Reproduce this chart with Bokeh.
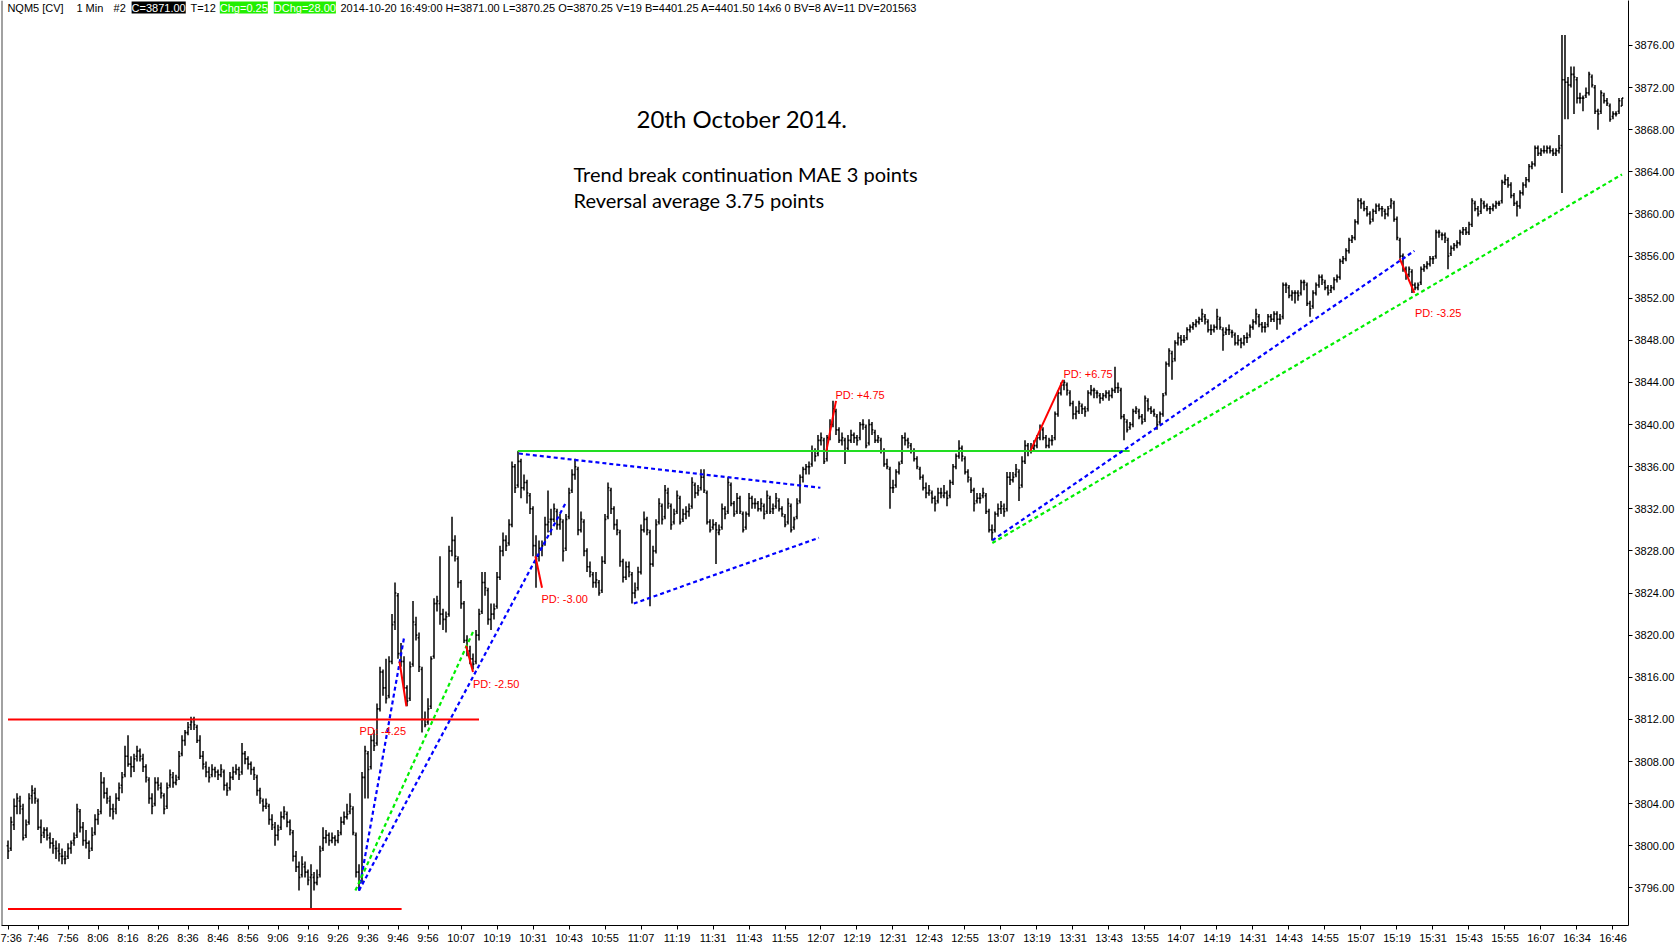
import numpy as np
from bokeh.plotting import figure
from bokeh.models import Range1d, FixedTicker, Label, Span, ColumnDataSource, PrintfTickFormatter
from bokeh.embed import file_html
from bokeh.resources import INLINE

# ---------------- data (1-minute OHLC bars, NQM5 2014-10-20 07:36 .. 16:49) ----------------
bar_open = [
3800.0, 3799.75, 3802.0, 3803.75, 3804.25, 3803.5, 3801.0, 3802.25, 3804.75, 3805.0,
3804.25, 3801.75, 3801.25, 3801.5, 3800.75, 3800.25, 3799.75, 3799.5, 3799.0, 3798.75,
3799.0, 3799.75, 3800.5, 3801.0, 3803.25, 3801.75, 3800.5, 3800.25, 3799.75, 3801.25,
3802.5, 3803.25, 3806.0, 3805.0, 3804.25, 3803.5, 3803.5, 3804.5, 3805.75, 3806.75,
3808.5, 3807.75, 3807.5, 3808.5, 3809.0, 3808.25, 3807.5, 3806.25, 3804.5, 3804.0,
3806.0, 3805.5, 3804.75, 3803.75, 3805.75, 3806.5, 3806.0, 3806.5, 3808.75, 3810.0,
3810.75, 3811.5, 3812.0, 3811.25, 3810.0, 3808.5, 3807.5, 3807.0, 3806.75, 3807.25,
3807.0, 3806.75, 3807.0, 3805.75, 3805.5, 3806.5, 3807.0, 3807.25, 3807.0, 3808.75,
3808.25, 3807.75, 3807.25, 3806.5, 3805.25, 3804.25, 3803.75, 3803.75, 3802.5, 3801.75,
3801.0, 3801.75, 3802.75, 3803.0, 3802.25, 3801.25, 3799.0, 3798.0, 3797.25, 3798.0,
3797.5, 3797.0, 3797.0, 3796.5, 3797.25, 3799.75, 3800.75, 3801.0, 3800.5, 3800.75,
3800.5, 3801.25, 3802.25, 3802.75, 3803.25, 3803.5, 3801.0, 3797.5, 3797.0, 3806.5,
3808.75, 3807.5, 3810.0, 3809.75, 3813.0, 3816.5, 3815.0, 3814.25, 3817.5, 3821.25,
3823.75, 3818.25, 3817.5, 3815.0, 3814.0, 3817.25, 3821.0, 3819.75, 3816.75, 3812.0,
3811.75, 3813.25, 3818.0, 3823.0, 3823.0, 3822.0, 3821.5, 3822.0, 3828.0, 3829.0,
3827.25, 3825.0, 3823.0, 3819.5, 3818.5, 3817.75, 3817.5, 3820.0, 3822.25, 3825.0,
3824.25, 3821.5, 3822.0, 3822.75, 3825.5, 3828.0, 3829.0, 3828.75, 3830.5, 3836.0,
3834.25, 3836.5, 3834.0, 3834.5, 3833.25, 3832.0, 3828.5, 3827.5, 3828.25, 3828.75,
3830.5, 3831.0, 3831.0, 3831.75, 3830.5, 3830.75, 3828.25, 3831.25, 3833.75, 3835.25,
3835.75, 3830.0, 3830.75, 3828.0, 3826.5, 3825.75, 3825.0, 3825.0, 3824.25, 3827.0,
3831.25, 3833.75, 3832.0, 3830.5, 3829.75, 3827.0, 3825.5, 3826.5, 3825.75, 3824.0,
3824.5, 3826.0, 3830.0, 3831.0, 3829.75, 3826.75, 3828.0, 3830.75, 3832.25, 3831.25,
3833.5, 3832.25, 3830.75, 3831.75, 3833.0, 3831.0, 3831.5, 3831.75, 3832.25, 3834.25,
3833.5, 3834.0, 3835.0, 3833.5, 3830.75, 3830.25, 3830.5, 3829.75, 3830.25, 3832.0,
3831.75, 3834.25, 3832.5, 3831.75, 3833.0, 3831.5, 3830.25, 3831.5, 3833.0, 3832.5,
3832.5, 3832.0, 3832.25, 3831.75, 3833.0, 3832.0, 3832.25, 3832.75, 3832.0, 3831.25,
3830.75, 3832.25, 3830.25, 3831.25, 3832.75, 3835.0, 3835.75, 3836.0, 3836.25, 3837.5,
3837.25, 3838.5, 3838.5, 3836.75, 3838.75, 3840.0, 3841.25, 3839.5, 3838.5, 3838.5,
3837.75, 3838.5, 3839.0, 3838.75, 3838.75, 3840.0, 3839.75, 3838.25, 3840.0, 3839.25,
3838.5, 3838.5, 3837.5, 3836.25, 3835.75, 3834.0, 3834.25, 3835.5, 3836.5, 3838.75,
3838.5, 3838.0, 3837.5, 3836.75, 3835.75, 3835.0, 3834.0, 3833.5, 3833.5, 3833.0,
3832.75, 3833.5, 3833.25, 3833.5, 3833.25, 3834.5, 3836.0, 3837.0, 3837.75, 3836.75,
3835.5, 3834.75, 3833.75, 3832.75, 3833.0, 3833.25, 3833.25, 3831.75, 3830.0, 3830.0,
3831.5, 3832.0, 3832.0, 3832.0, 3835.0, 3834.75, 3835.25, 3835.5, 3834.25, 3836.5,
3838.0, 3837.5, 3837.75, 3838.0, 3838.75, 3839.5, 3838.75, 3838.0, 3838.5, 3838.75,
3841.0, 3843.0, 3843.75, 3843.75, 3843.0, 3842.0, 3841.0, 3841.25, 3841.75, 3841.5,
3841.5, 3843.0, 3843.25, 3843.0, 3842.75, 3842.5, 3842.75, 3843.0, 3842.75, 3843.25,
3843.5, 3843.25, 3840.75, 3840.25, 3839.75, 3840.0, 3841.25, 3841.25, 3840.75, 3840.5,
3842.25, 3841.5, 3841.25, 3840.75, 3840.25, 3841.0, 3843.0, 3845.75, 3846.75, 3846.25,
3847.75, 3848.25, 3848.0, 3848.25, 3849.0, 3849.25, 3849.5, 3849.75, 3850.0, 3850.25,
3849.75, 3849.0, 3849.0, 3849.25, 3850.0, 3849.0, 3848.75, 3849.0, 3848.75, 3848.5,
3847.75, 3848.0, 3847.75, 3848.25, 3848.5, 3849.25, 3849.75, 3850.25, 3849.5, 3849.25,
3849.5, 3850.25, 3850.0, 3850.5, 3850.0, 3850.25, 3853.25, 3853.0, 3852.25, 3852.5,
3852.5, 3852.5, 3853.5, 3853.25, 3851.5, 3851.25, 3852.5, 3853.25, 3854.0, 3853.5,
3853.0, 3852.75, 3853.0, 3853.75, 3854.0, 3855.5, 3855.75, 3856.5, 3857.5, 3857.75,
3859.25, 3861.25, 3861.0, 3860.5, 3860.0, 3859.5, 3860.25, 3860.75, 3860.5, 3860.25,
3860.0, 3860.75, 3861.0, 3859.5, 3857.5, 3856.0, 3854.75, 3854.25, 3854.5, 3853.25,
3853.0, 3853.5, 3854.75, 3855.0, 3855.25, 3855.75, 3856.0, 3858.25, 3858.0, 3858.0,
3857.5, 3856.25, 3856.75, 3857.0, 3857.25, 3858.25, 3858.5, 3858.25, 3859.0, 3861.0,
3860.5, 3860.25, 3861.0, 3860.75, 3860.5, 3860.5, 3860.75, 3861.0, 3861.25, 3863.0,
3863.25, 3862.75, 3861.75, 3861.0, 3860.75, 3862.0, 3862.75, 3863.25, 3864.5, 3864.75,
3866.25, 3865.75, 3866.0, 3866.0, 3866.25, 3866.0, 3865.75, 3866.0, 3866.5, 3872.75,
3872.5, 3872.25, 3873.25, 3872.75, 3871.0, 3871.0, 3871.25, 3871.5, 3873.0, 3872.0,
3869.75, 3869.75, 3871.25, 3870.75, 3870.25, 3869.25, 3869.5, 3869.75, 3870.25,
]

bar_high = [
3800.5, 3802.75, 3804.5, 3805.0, 3804.75, 3804.0, 3802.5, 3805.0, 3805.75, 3805.5,
3804.5, 3802.5, 3801.75, 3801.75, 3801.25, 3800.75, 3800.5, 3800.25, 3799.75, 3799.5,
3800.25, 3800.5, 3801.25, 3804.0, 3803.5, 3802.25, 3801.5, 3800.5, 3801.75, 3803.0,
3803.5, 3807.0, 3806.5, 3805.5, 3804.75, 3804.0, 3805.0, 3806.0, 3807.0, 3809.5,
3810.5, 3808.5, 3808.75, 3809.5, 3809.25, 3808.75, 3807.75, 3806.5, 3805.0, 3806.5,
3806.5, 3806.0, 3805.0, 3806.0, 3807.25, 3807.0, 3806.75, 3809.0, 3810.5, 3811.0,
3811.75, 3812.25, 3812.25, 3811.5, 3810.5, 3809.0, 3808.0, 3807.5, 3807.75, 3807.5,
3807.25, 3807.75, 3807.25, 3806.0, 3807.0, 3807.5, 3807.75, 3807.5, 3809.75, 3809.0,
3808.5, 3808.0, 3807.5, 3806.75, 3805.5, 3804.5, 3804.5, 3804.0, 3803.0, 3802.25,
3802.0, 3803.25, 3803.75, 3803.25, 3802.5, 3801.5, 3799.5, 3798.5, 3799.0, 3798.5,
3797.75, 3798.25, 3797.5, 3797.75, 3800.0, 3801.75, 3801.5, 3801.25, 3801.25, 3801.0,
3801.5, 3802.75, 3803.25, 3804.0, 3805.0, 3803.75, 3801.25, 3798.25, 3807.0, 3809.5,
3809.0, 3810.5, 3811.0, 3813.5, 3817.0, 3816.75, 3817.75, 3818.0, 3822.0, 3825.0,
3824.0, 3819.25, 3818.0, 3815.25, 3817.5, 3823.25, 3821.75, 3820.25, 3817.0, 3812.75,
3814.0, 3818.0, 3823.5, 3823.75, 3827.5, 3822.5, 3822.25, 3828.5, 3831.25, 3829.5,
3827.5, 3825.25, 3823.25, 3820.0, 3819.0, 3818.25, 3820.5, 3822.5, 3826.0, 3826.0,
3824.5, 3823.0, 3823.0, 3826.0, 3828.5, 3829.75, 3829.5, 3831.0, 3836.5, 3836.25,
3837.5, 3836.75, 3835.25, 3834.75, 3833.5, 3832.25, 3829.5, 3829.0, 3829.0, 3831.25,
3833.75, 3832.0, 3832.5, 3832.0, 3831.5, 3831.0, 3831.5, 3834.0, 3835.75, 3836.75,
3836.0, 3831.75, 3831.0, 3828.25, 3827.0, 3826.0, 3826.0, 3825.25, 3827.5, 3831.5,
3834.5, 3834.0, 3832.25, 3831.0, 3830.0, 3827.25, 3827.0, 3827.0, 3826.0, 3825.0,
3826.5, 3830.5, 3831.75, 3831.25, 3830.0, 3828.5, 3831.0, 3833.0, 3832.5, 3834.25,
3834.0, 3832.5, 3832.0, 3833.75, 3833.25, 3832.0, 3832.25, 3832.5, 3835.0, 3834.5,
3834.25, 3835.75, 3835.75, 3833.75, 3831.0, 3831.0, 3830.75, 3830.5, 3832.5, 3832.25,
3835.0, 3834.5, 3832.75, 3833.5, 3833.25, 3831.75, 3831.75, 3833.5, 3833.25, 3833.0,
3832.75, 3833.0, 3832.5, 3833.75, 3833.25, 3832.5, 3833.5, 3833.0, 3832.25, 3831.5,
3833.0, 3832.5, 3831.25, 3833.0, 3835.25, 3836.0, 3836.25, 3836.5, 3838.0, 3837.75,
3839.0, 3839.25, 3838.75, 3839.0, 3840.5, 3842.25, 3841.5, 3839.75, 3839.25, 3838.75,
3839.0, 3839.5, 3839.25, 3839.0, 3840.25, 3840.5, 3840.0, 3840.5, 3840.25, 3839.5,
3839.0, 3838.75, 3837.75, 3836.75, 3836.0, 3834.75, 3835.75, 3836.5, 3839.0, 3839.25,
3838.75, 3838.25, 3837.75, 3837.0, 3836.0, 3835.25, 3834.5, 3834.25, 3833.75, 3833.25,
3834.0, 3834.0, 3834.25, 3833.75, 3834.75, 3836.25, 3837.25, 3838.5, 3838.0, 3837.0,
3835.75, 3835.0, 3834.0, 3833.5, 3833.5, 3834.0, 3833.5, 3832.0, 3830.5, 3831.75,
3832.5, 3832.75, 3832.5, 3835.5, 3835.5, 3835.5, 3836.25, 3835.75, 3837.0, 3838.5,
3838.25, 3838.25, 3838.5, 3839.0, 3840.0, 3839.75, 3839.0, 3838.75, 3839.0, 3841.25,
3843.25, 3844.0, 3844.25, 3844.0, 3843.25, 3842.25, 3841.75, 3842.25, 3842.0, 3841.75,
3843.25, 3843.75, 3843.5, 3843.25, 3843.0, 3843.0, 3843.25, 3843.25, 3843.5, 3845.5,
3844.0, 3843.5, 3841.0, 3840.5, 3840.25, 3841.5, 3841.75, 3841.5, 3841.0, 3842.75,
3842.5, 3841.75, 3841.5, 3841.0, 3841.25, 3843.0, 3846.0, 3847.25, 3847.0, 3848.0,
3848.75, 3848.5, 3848.5, 3849.25, 3849.5, 3849.75, 3850.0, 3850.25, 3851.0, 3850.5,
3850.0, 3849.5, 3849.5, 3851.0, 3850.25, 3849.25, 3849.25, 3849.5, 3849.0, 3848.75,
3848.5, 3848.25, 3848.5, 3848.75, 3849.5, 3850.0, 3851.0, 3850.5, 3849.75, 3849.75,
3850.5, 3850.5, 3850.75, 3850.75, 3850.5, 3853.5, 3853.5, 3853.25, 3852.75, 3852.75,
3852.75, 3853.75, 3853.75, 3853.5, 3851.75, 3852.75, 3853.5, 3854.25, 3854.25, 3853.75,
3853.25, 3853.25, 3854.0, 3854.25, 3855.75, 3856.0, 3856.75, 3857.75, 3858.0, 3859.5,
3861.5, 3861.5, 3861.25, 3860.75, 3860.25, 3860.5, 3861.0, 3861.0, 3860.75, 3860.5,
3860.75, 3861.5, 3861.25, 3859.75, 3857.75, 3856.25, 3855.0, 3855.0, 3854.75, 3853.5,
3853.5, 3855.0, 3855.25, 3855.5, 3856.0, 3856.0, 3858.5, 3858.5, 3858.25, 3858.25,
3857.75, 3857.0, 3857.25, 3857.5, 3858.5, 3858.75, 3858.75, 3859.25, 3861.5, 3861.25,
3860.75, 3861.5, 3861.25, 3861.0, 3860.75, 3861.0, 3861.25, 3861.25, 3863.25, 3863.75,
3863.5, 3863.0, 3862.0, 3861.25, 3862.25, 3863.0, 3863.5, 3864.75, 3865.0, 3866.5,
3866.5, 3866.25, 3866.5, 3866.5, 3866.5, 3866.25, 3866.25, 3867.5, 3877.0, 3877.0,
3873.0, 3874.0, 3874.0, 3873.0, 3871.5, 3871.25, 3872.0, 3873.5, 3873.25, 3872.25,
3870.0, 3871.75, 3871.5, 3871.0, 3870.5, 3869.75, 3869.75, 3871.0, 3871.0,
]

bar_low = [
3798.75, 3799.5, 3801.5, 3803.0, 3803.0, 3800.5, 3800.75, 3802.0, 3804.0, 3804.0,
3801.5, 3800.25, 3800.75, 3800.5, 3799.75, 3799.25, 3798.75, 3798.5, 3798.25, 3798.25,
3798.75, 3799.25, 3800.0, 3800.75, 3801.25, 3800.0, 3799.75, 3798.75, 3799.5, 3801.0,
3802.0, 3803.0, 3804.5, 3804.0, 3802.75, 3802.5, 3803.0, 3804.25, 3805.0, 3806.5,
3807.5, 3806.5, 3807.0, 3808.0, 3808.0, 3807.0, 3806.0, 3804.0, 3803.0, 3803.75,
3805.25, 3804.5, 3803.0, 3803.5, 3805.5, 3805.5, 3805.75, 3806.25, 3808.5, 3809.5,
3810.5, 3811.0, 3811.0, 3809.75, 3808.25, 3807.25, 3806.5, 3806.0, 3806.5, 3806.5,
3806.25, 3806.5, 3805.25, 3804.75, 3805.25, 3806.25, 3806.75, 3806.25, 3806.75, 3807.75,
3807.25, 3806.75, 3806.25, 3804.75, 3804.0, 3803.25, 3803.5, 3802.0, 3801.5, 3800.0,
3800.5, 3801.5, 3802.5, 3801.75, 3801.0, 3798.5, 3797.5, 3795.75, 3797.0, 3797.0,
3796.25, 3794.0, 3795.75, 3796.25, 3797.0, 3799.5, 3800.25, 3800.0, 3800.25, 3800.0,
3800.25, 3801.0, 3802.0, 3802.5, 3803.0, 3801.0, 3797.0, 3795.75, 3796.5, 3804.5,
3804.5, 3807.25, 3809.0, 3809.5, 3812.75, 3814.25, 3813.5, 3814.0, 3817.25, 3820.5,
3817.75, 3817.0, 3814.75, 3813.25, 3813.75, 3817.0, 3819.5, 3816.5, 3810.75, 3811.25,
3811.5, 3813.0, 3817.75, 3822.25, 3821.0, 3820.5, 3820.25, 3821.75, 3827.5, 3827.0,
3824.5, 3822.5, 3819.25, 3818.0, 3817.25, 3816.75, 3817.25, 3819.5, 3822.0, 3823.75,
3821.0, 3820.5, 3821.5, 3822.5, 3825.25, 3827.5, 3828.0, 3828.5, 3830.25, 3833.5,
3834.0, 3833.0, 3833.75, 3832.5, 3831.5, 3827.5, 3824.5, 3827.0, 3827.5, 3828.5,
3829.75, 3829.5, 3830.75, 3830.0, 3830.0, 3827.0, 3828.0, 3831.0, 3833.5, 3834.75,
3829.5, 3829.75, 3827.5, 3826.0, 3825.5, 3824.5, 3824.5, 3823.75, 3824.0, 3826.75,
3831.0, 3831.5, 3830.0, 3829.5, 3826.5, 3825.0, 3825.25, 3825.5, 3823.0, 3823.5,
3824.25, 3825.75, 3829.75, 3829.5, 3822.75, 3826.5, 3827.75, 3830.5, 3830.5, 3831.0,
3832.0, 3830.0, 3830.5, 3831.5, 3830.5, 3830.75, 3831.0, 3831.25, 3832.0, 3833.0,
3833.25, 3833.75, 3833.5, 3830.5, 3829.75, 3830.0, 3826.75, 3829.5, 3830.0, 3831.0,
3831.5, 3832.25, 3831.25, 3831.5, 3831.5, 3829.75, 3830.0, 3831.25, 3832.0, 3832.0,
3831.75, 3831.75, 3831.0, 3831.5, 3831.5, 3831.5, 3832.0, 3831.75, 3831.25, 3830.25,
3830.5, 3829.75, 3830.0, 3831.0, 3832.5, 3834.5, 3835.25, 3835.25, 3836.0, 3836.5,
3837.0, 3838.0, 3836.25, 3836.5, 3838.5, 3839.75, 3839.0, 3838.25, 3838.0, 3836.25,
3837.5, 3838.25, 3838.25, 3838.0, 3838.5, 3839.5, 3837.75, 3838.0, 3839.0, 3838.25,
3838.25, 3837.25, 3836.0, 3835.75, 3832.0, 3833.5, 3834.0, 3835.25, 3836.25, 3838.0,
3837.75, 3837.25, 3836.5, 3835.75, 3834.75, 3833.75, 3833.0, 3833.25, 3832.5, 3831.75,
3832.5, 3833.0, 3833.0, 3832.25, 3833.0, 3834.25, 3835.75, 3836.75, 3836.5, 3835.25,
3834.5, 3833.5, 3831.75, 3832.5, 3832.5, 3833.0, 3831.5, 3829.75, 3829.0, 3829.75,
3831.25, 3831.5, 3831.25, 3831.75, 3834.25, 3834.5, 3835.0, 3832.75, 3834.0, 3836.25,
3837.0, 3837.25, 3837.5, 3837.75, 3838.5, 3838.5, 3837.75, 3837.75, 3838.0, 3838.5,
3840.75, 3842.75, 3843.25, 3842.75, 3841.75, 3840.5, 3840.5, 3841.0, 3841.0, 3840.75,
3841.25, 3842.75, 3842.5, 3842.5, 3842.0, 3842.25, 3842.5, 3842.25, 3842.5, 3843.0,
3843.0, 3840.5, 3838.5, 3839.25, 3839.5, 3839.75, 3841.0, 3840.5, 3840.0, 3840.25,
3841.25, 3841.0, 3840.75, 3839.5, 3840.0, 3840.75, 3842.75, 3845.5, 3844.25, 3846.0,
3847.5, 3847.5, 3847.75, 3848.0, 3848.75, 3849.0, 3849.25, 3849.5, 3849.75, 3849.5,
3848.75, 3848.5, 3848.75, 3849.0, 3849.0, 3847.0, 3848.5, 3848.5, 3848.25, 3847.5,
3847.5, 3847.25, 3847.5, 3847.75, 3848.25, 3849.0, 3849.5, 3849.25, 3848.75, 3848.75,
3849.25, 3849.75, 3849.75, 3849.0, 3849.5, 3850.0, 3852.5, 3852.0, 3851.75, 3851.5,
3851.75, 3852.25, 3852.75, 3851.25, 3850.25, 3851.0, 3852.25, 3853.0, 3853.25, 3852.75,
3852.25, 3852.5, 3852.75, 3853.5, 3853.75, 3855.25, 3855.5, 3856.25, 3857.25, 3857.5,
3859.0, 3860.5, 3860.25, 3859.75, 3859.0, 3859.25, 3860.0, 3860.25, 3859.75, 3859.5,
3859.75, 3860.5, 3859.25, 3857.5, 3855.75, 3854.5, 3853.75, 3854.0, 3852.5, 3852.75,
3852.75, 3853.25, 3854.5, 3854.75, 3855.0, 3855.25, 3855.75, 3857.75, 3857.5, 3857.25,
3854.75, 3856.0, 3856.5, 3856.75, 3857.0, 3858.0, 3858.0, 3858.0, 3858.75, 3860.25,
3859.75, 3860.0, 3860.5, 3860.25, 3860.0, 3860.25, 3860.5, 3860.75, 3861.0, 3862.75,
3862.5, 3861.5, 3860.75, 3859.75, 3860.5, 3861.75, 3862.5, 3863.0, 3864.25, 3864.5,
3865.5, 3865.5, 3865.75, 3865.75, 3865.75, 3865.5, 3865.5, 3865.75, 3862.0, 3869.0,
3869.0, 3872.0, 3869.5, 3870.5, 3870.5, 3869.75, 3871.0, 3871.25, 3872.0, 3869.5,
3868.0, 3869.5, 3870.5, 3870.25, 3868.75, 3869.0, 3869.25, 3869.5, 3870.25,
]

bar_close = [
3799.5, 3802.25, 3803.75, 3804.5, 3803.75, 3800.75, 3802.0, 3804.5, 3805.25, 3804.5,
3801.75, 3801.0, 3801.5, 3801.0, 3800.25, 3800.0, 3799.75, 3799.25, 3799.0, 3798.75,
3799.75, 3800.25, 3800.75, 3803.5, 3801.75, 3800.5, 3800.25, 3799.5, 3801.0, 3802.5,
3803.0, 3806.0, 3805.0, 3804.5, 3803.5, 3803.25, 3804.5, 3805.5, 3806.5, 3808.5,
3807.75, 3807.5, 3808.25, 3809.0, 3808.5, 3807.5, 3806.5, 3804.5, 3803.75, 3806.0,
3805.75, 3805.0, 3803.5, 3805.5, 3806.75, 3806.0, 3806.25, 3808.5, 3810.0, 3810.75,
3811.25, 3811.75, 3811.5, 3810.0, 3808.5, 3807.75, 3807.0, 3806.5, 3807.25, 3807.0,
3806.75, 3807.25, 3805.75, 3805.25, 3806.5, 3807.0, 3807.25, 3806.75, 3808.75, 3808.25,
3807.75, 3807.25, 3806.75, 3805.25, 3804.5, 3803.75, 3804.0, 3802.5, 3802.0, 3801.0,
3801.5, 3802.75, 3803.25, 3802.25, 3801.5, 3799.0, 3798.0, 3797.0, 3798.25, 3797.5,
3796.75, 3797.25, 3796.5, 3797.0, 3799.5, 3800.75, 3801.0, 3800.5, 3800.75, 3800.5,
3801.0, 3802.25, 3802.75, 3803.0, 3803.75, 3801.25, 3797.5, 3796.5, 3806.5, 3809.0,
3807.25, 3810.0, 3809.5, 3813.0, 3816.5, 3815.0, 3814.0, 3817.5, 3821.0, 3824.0,
3818.25, 3817.5, 3815.0, 3813.75, 3817.0, 3821.25, 3820.0, 3817.0, 3812.0, 3811.5,
3813.0, 3817.75, 3823.0, 3823.25, 3822.0, 3821.5, 3821.75, 3828.0, 3829.0, 3827.5,
3825.0, 3823.0, 3819.5, 3818.5, 3817.75, 3817.25, 3820.0, 3822.0, 3825.0, 3824.5,
3821.5, 3822.0, 3822.5, 3825.5, 3828.0, 3829.0, 3828.5, 3830.5, 3836.0, 3834.0,
3836.5, 3834.0, 3834.5, 3833.5, 3832.0, 3828.5, 3827.25, 3828.25, 3828.5, 3830.5,
3830.75, 3831.0, 3832.0, 3830.5, 3831.0, 3828.0, 3831.0, 3833.5, 3835.25, 3836.0,
3830.0, 3831.0, 3828.0, 3826.5, 3826.0, 3825.0, 3825.25, 3824.0, 3827.0, 3831.0,
3834.0, 3832.0, 3830.5, 3830.0, 3827.0, 3825.5, 3826.5, 3826.0, 3824.0, 3824.25,
3826.0, 3830.0, 3831.0, 3830.0, 3826.75, 3828.0, 3830.5, 3832.5, 3831.0, 3833.75,
3832.5, 3830.5, 3831.5, 3833.25, 3830.75, 3831.5, 3831.75, 3832.0, 3834.5, 3833.5,
3833.75, 3835.0, 3833.75, 3830.75, 3830.0, 3830.5, 3830.0, 3830.0, 3832.0, 3831.5,
3834.5, 3832.5, 3831.5, 3833.0, 3831.75, 3830.0, 3831.5, 3833.0, 3832.5, 3832.5,
3832.0, 3832.5, 3831.5, 3833.25, 3831.75, 3832.0, 3833.0, 3832.0, 3831.5, 3830.5,
3832.5, 3830.0, 3831.0, 3832.5, 3835.0, 3835.75, 3836.0, 3836.0, 3837.5, 3837.0,
3838.5, 3838.75, 3836.5, 3838.75, 3840.0, 3841.5, 3839.5, 3838.5, 3838.75, 3837.5,
3838.5, 3839.0, 3838.75, 3838.5, 3840.0, 3840.0, 3838.0, 3840.0, 3839.5, 3838.5,
3838.75, 3837.5, 3836.25, 3836.0, 3834.0, 3834.0, 3835.5, 3836.25, 3838.75, 3838.5,
3838.25, 3837.5, 3836.75, 3836.0, 3835.0, 3834.0, 3833.5, 3833.75, 3833.0, 3832.5,
3833.5, 3833.5, 3833.5, 3833.0, 3834.5, 3836.0, 3837.0, 3837.75, 3837.0, 3835.5,
3835.0, 3833.75, 3832.5, 3833.0, 3833.0, 3833.5, 3831.75, 3830.0, 3829.75, 3831.5,
3832.0, 3832.25, 3831.75, 3835.0, 3834.75, 3835.0, 3835.75, 3834.0, 3836.5, 3838.0,
3837.5, 3837.75, 3838.0, 3838.75, 3839.75, 3838.75, 3838.0, 3838.5, 3838.5, 3841.0,
3843.0, 3843.75, 3844.0, 3843.25, 3842.0, 3841.0, 3841.25, 3842.0, 3841.5, 3841.25,
3843.0, 3843.25, 3843.25, 3843.0, 3842.5, 3842.75, 3843.0, 3842.75, 3843.25, 3843.5,
3843.5, 3840.75, 3840.5, 3839.5, 3840.0, 3841.25, 3841.5, 3840.75, 3840.25, 3842.5,
3841.5, 3841.25, 3841.0, 3840.0, 3841.0, 3842.75, 3845.75, 3847.0, 3846.0, 3847.75,
3848.25, 3848.0, 3848.0, 3849.0, 3849.25, 3849.5, 3849.75, 3850.0, 3850.5, 3850.0,
3849.0, 3849.0, 3849.25, 3850.25, 3849.25, 3848.5, 3849.0, 3849.0, 3848.75, 3847.75,
3848.0, 3847.75, 3848.25, 3848.25, 3849.25, 3849.75, 3850.5, 3849.5, 3849.25, 3849.25,
3850.25, 3850.0, 3850.5, 3850.0, 3850.0, 3853.25, 3853.25, 3852.25, 3852.5, 3852.5,
3852.25, 3853.5, 3853.5, 3851.5, 3851.0, 3852.5, 3853.25, 3854.0, 3853.75, 3853.0,
3852.5, 3853.0, 3853.75, 3854.0, 3855.5, 3855.75, 3856.5, 3857.5, 3857.75, 3859.25,
3861.25, 3861.0, 3860.5, 3860.0, 3859.25, 3860.25, 3860.75, 3860.5, 3860.5, 3860.0,
3860.5, 3861.25, 3859.5, 3857.75, 3856.0, 3854.75, 3854.25, 3854.75, 3853.25, 3853.0,
3853.25, 3854.75, 3855.0, 3855.25, 3855.75, 3855.75, 3858.25, 3858.25, 3858.0, 3857.75,
3856.0, 3856.75, 3857.0, 3857.25, 3858.25, 3858.5, 3858.25, 3859.0, 3861.25, 3860.5,
3860.0, 3861.25, 3860.75, 3860.5, 3860.5, 3860.75, 3861.0, 3861.0, 3863.0, 3863.25,
3862.75, 3861.75, 3861.0, 3860.75, 3862.0, 3862.75, 3863.25, 3864.5, 3864.75, 3866.25,
3865.75, 3866.0, 3866.0, 3866.25, 3866.0, 3865.75, 3866.0, 3866.25, 3872.75, 3872.5,
3872.25, 3873.25, 3873.0, 3871.0, 3871.0, 3871.0, 3871.5, 3873.25, 3872.25, 3869.75,
3869.5, 3871.5, 3870.75, 3870.5, 3869.0, 3869.5, 3869.5, 3870.75, 3871.0,
]

# x-axis: bar index of each time label
tick_index = [0, 10, 20, 30, 40, 50, 60, 70, 80, 90, 100, 110, 120, 130, 140,
              151, 163, 175, 187, 199, 211, 223, 235, 247, 259, 271, 283, 295, 307,
              319, 331, 343, 355, 367, 379, 391, 403, 415, 427, 439, 451, 463, 475,
              487, 499, 511, 523, 535]
tick_labels = ["7:36", "7:46", "7:56", "8:06", "8:16", "8:26", "8:36", "8:46", "8:56",
               "9:06", "9:16", "9:26", "9:36", "9:46", "9:56", "10:07", "10:19", "10:31",
               "10:43", "10:55", "11:07", "11:19", "11:31", "11:43", "11:55", "12:07",
               "12:19", "12:31", "12:43", "12:55", "13:07", "13:19", "13:31", "13:43",
               "13:55", "14:07", "14:19", "14:31", "14:43", "14:55", "15:07", "15:19",
               "15:31", "15:43", "15:55", "16:07", "16:34", "16:46"]
price_ticks = [3796, 3800, 3804, 3808, 3812, 3816, 3820, 3824, 3828, 3832, 3836, 3840,
               3844, 3848, 3852, 3856, 3860, 3864, 3868, 3872, 3876]

# drawn levels and trend lines (bar index, price)
red_level_price = [3812.0, 3794.0]
red_level_from = [0.0, 0.0]
red_level_to = [157.0, 131.2]
green_level_price = [3837.5]
green_level_from = [169.9]
green_level_to = [373.9]

pd_x0 = [130.5, 152.7, 175.8, 272.8, 340.8, 463.9]
pd_y0 = [3817.5, 3819.0, 3827.5, 3837.5, 3837.5, 3855.75]
pd_x1 = [132.8, 155.0, 178.0, 276.0, 351.7, 468.8]
pd_y1 = [3813.25, 3816.5, 3824.5, 3842.25, 3844.25, 3852.5]
pd_text = ["PD: -4.25", "PD: -2.50", "PD: -3.00", "PD: +4.75", "PD: +6.75", "PD: -3.25"]
pd_text_x = [117.2, 155.0, 177.8, 275.8, 351.8, 469.0]
pd_text_y = [3810.9, 3815.4, 3823.4, 3842.8, 3844.8, 3850.6]

blue_x0 = [117.0, 117.0, 170.3, 208.6, 328.1]
blue_y0 = [3795.75, 3795.75, 3837.25, 3823.0, 3829.0]
blue_x1 = [132.0, 185.8, 270.8, 270.3, 468.8]
blue_y1 = [3819.75, 3832.5, 3834.0, 3829.25, 3856.5]

green_x0 = [115.8, 328.1]
green_y0 = [3795.75, 3828.75]
green_x1 = [155.3, 538.0]
green_y1 = [3820.5, 3863.75]

note_text = ["20th October 2014.", "Trend break continuation MAE 3 points", "Reversal average 3.75 points"]
note_x = [209.5, 188.5, 188.5]
note_y = [3869.1, 3863.75, 3861.3]

header_parts = ["NQM5 [CV]", "1 Min", "#2", "C=3871.00", "T=12", "Chg=0.25", "DChg=28.00",
                "2014-10-20 16:49:00 H=3871.00 L=3870.25 O=3870.25 V=19 B=4401.25 A=4401.50 14x6 0 BV=8 AV=11 DV=201563"]
header_x = [-0.2, 22.8, 35.2, 41.2, 60.8, 70.6, 88.6, 110.8]

# ---------------- figure ----------------
FONT = "Liberation Sans"
X0, X1 = -2.17, 540.17
Y0, Y1 = 3792.43, 3880.27

n = min(len(bar_open), len(bar_high), len(bar_low), len(bar_close))
idx = np.arange(n)
src = ColumnDataSource(dict(x=idx, xo=idx - 0.45, xc=idx + 0.45,
                            o=bar_open[:n], h=bar_high[:n], l=bar_low[:n], c=bar_close[:n]))

p = figure(width=1680, height=946, output_backend="svg", toolbar_location=None,
           x_range=Range1d(X0, X1), y_range=Range1d(Y0, Y1), y_axis_location="right",
           min_border_left=1, min_border_top=0, min_border_right=52, min_border_bottom=21,
           background_fill_color="white", border_fill_color="white")
p.outline_line_color = None
p.xgrid.visible = False
p.ygrid.visible = False

xa = p.xaxis[0]
xa.ticker = FixedTicker(ticks=tick_index)
xa.major_label_overrides = {t: s for t, s in zip(tick_index, tick_labels)}
ya = p.yaxis[0]
ya.ticker = FixedTicker(ticks=price_ticks)
ya.formatter = PrintfTickFormatter(format="%.2f")
for ax in (xa, ya):
    ax.axis_line_color = "black"
    ax.axis_line_width = 1
    ax.major_tick_line_color = "black"
    ax.major_tick_out = 4
    ax.major_tick_in = 0
    ax.minor_tick_line_color = None
    ax.major_label_text_font = FONT
    ax.major_label_text_font_size = "11px"
    ax.major_label_text_color = "black"
    ax.major_label_standoff = 2

p.add_layout(Span(location=X0, dimension="height", line_color="#444444", line_width=2))

# bars
p.segment("x", "l", "x", "h", source=src, line_color="black", line_width=1.5)
p.segment("xo", "o", "x", "o", source=src, line_color="black", line_width=1.6)
p.segment("x", "c", "xc", "c", source=src, line_color="black", line_width=1.6)

# horizontal levels
p.segment(red_level_from, red_level_price, red_level_to, red_level_price,
          line_color="#ff0000", line_width=2)
p.segment(green_level_from, green_level_price, green_level_to, green_level_price,
          line_color="#22dd22", line_width=2)

# trend lines
p.segment(blue_x0, blue_y0, blue_x1, blue_y1, line_color="#0000ff", line_width=2.2,
          line_dash="4 3")
p.segment(green_x0, green_y0, green_x1, green_y1, line_color="#00ee00", line_width=2.2,
          line_dash="4 3")
p.segment(pd_x0, pd_y0, pd_x1, pd_y1, line_color="#ff0000", line_width=2)

for t, x, y in zip(pd_text, pd_text_x, pd_text_y):
    p.add_layout(Label(x=x, y=y, text=t, text_font=FONT, text_font_size="11px",
                       text_color="#ff0000", text_baseline="middle", text_align="left"))

note_sizes = ["24px", "20px", "20px"]
for t, x, y, s in zip(note_text, note_x, note_y, note_sizes):
    p.add_layout(Label(x=x, y=y, text=t, text_font="Lato", text_font_size=s,
                       text_color="black", text_baseline="middle", text_align="left"))

# header line
hy = 3879.6
for t, x in zip(header_parts, header_x):
    kw = dict(text_color="black")
    if t.startswith("C="):
        kw = dict(text_color="white", background_fill_color="black")
    elif "Chg=" in t:
        kw = dict(text_color="white", background_fill_color="#22ee00")
    p.add_layout(Label(x=x, y=hy, text=t, text_font=FONT, text_font_size="11px",
                       text_baseline="middle", text_align="left", **kw))

open("out.html", "w").write(file_html(p, INLINE))
